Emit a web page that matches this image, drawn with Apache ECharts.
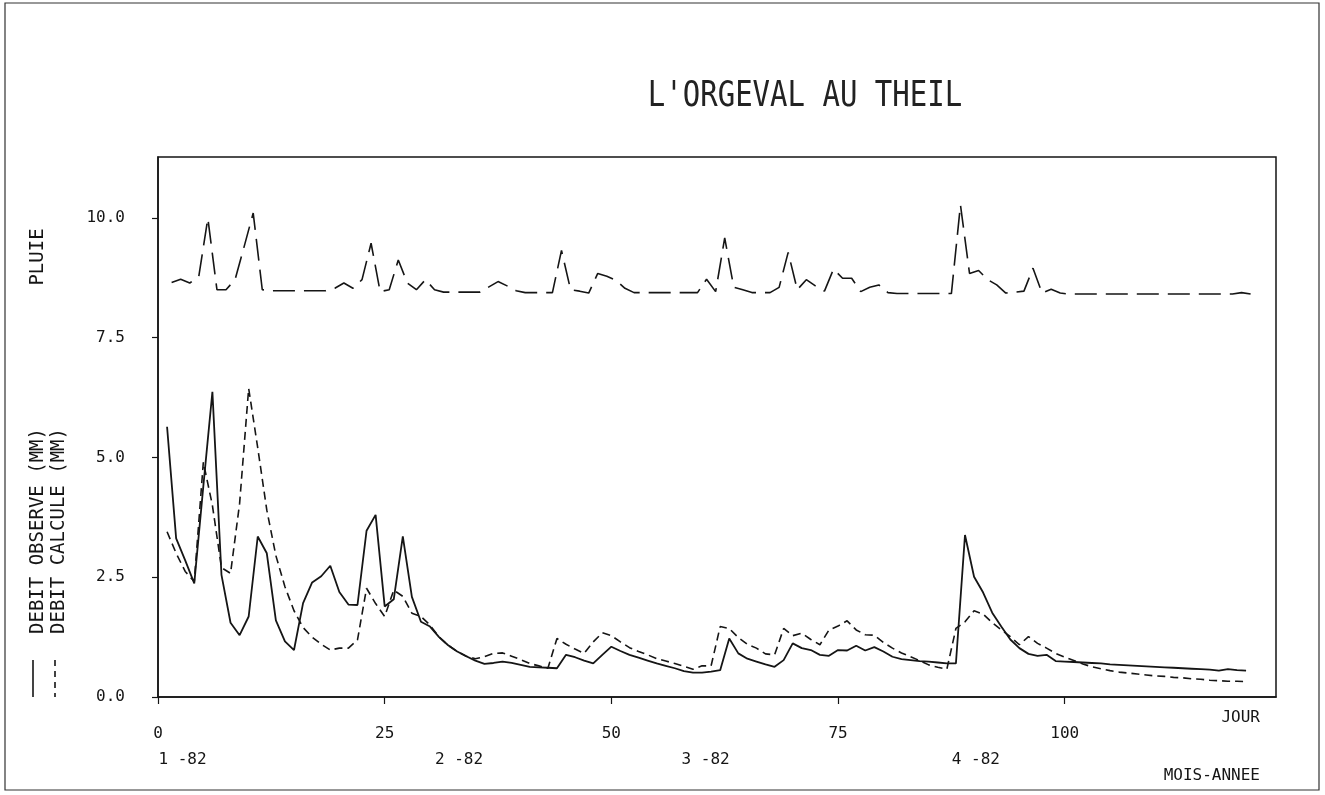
<!DOCTYPE html>
<html>
<head>
<meta charset="utf-8">
<script src="https://cdn.jsdelivr.net/npm/echarts@6/dist/echarts.min.js"></script>
<style>
html,body{margin:0;padding:0;background:#fff;}
#chart{width:1325px;height:795px;}
</style>
</head>
<body>
<div id="chart"></div>
<script>
// ---- data ----
const title = "L'ORGEVAL AU THEIL";
const xTicks = [0, 25, 50, 75, 100];
const monthLabels = ['1 -82', '2 -82', '3 -82', '4 -82'];
const monthLabelDays = [2.7, 33.2, 60.4, 90.2];
const yTicks = ['0.0', '2.5', '5.0', '7.5', '10.0'];

// daily observed discharge, days 1..120
const debitObserve = [
  5.64, 3.31, 2.85, 2.37, 4.40, 6.37, 2.55, 1.55, 1.29, 1.68,
  3.35, 3.00, 1.60, 1.16, 0.98, 1.96, 2.39, 2.52, 2.74, 2.19,
  1.93, 1.92, 3.47, 3.80, 1.89, 2.04, 3.35, 2.09, 1.57, 1.47,
  1.25, 1.08, 0.95, 0.85, 0.76, 0.69, 0.71, 0.74, 0.71, 0.67,
  0.63, 0.62, 0.61, 0.60, 0.88, 0.83, 0.76, 0.70, 0.88, 1.05,
  0.96, 0.88, 0.82, 0.76, 0.70, 0.65, 0.60, 0.54, 0.51, 0.51,
  0.53, 0.56, 1.22, 0.91, 0.80, 0.74, 0.68, 0.63, 0.77, 1.12,
  1.02, 0.98, 0.88, 0.86, 0.98, 0.97, 1.07, 0.97, 1.04, 0.95,
  0.84, 0.79, 0.77, 0.75, 0.74, 0.72, 0.70, 0.70, 3.38, 2.51,
  2.18, 1.76, 1.47, 1.20, 1.02, 0.90, 0.86, 0.88, 0.75, 0.74,
  0.73, 0.72, 0.71, 0.70, 0.68, 0.67, 0.66, 0.65, 0.64, 0.63,
  0.62, 0.61, 0.60, 0.59, 0.58, 0.57, 0.55, 0.58, 0.56, 0.55
];

// daily computed discharge, days 1..120
const debitCalcule = [
  3.45, 3.00, 2.62, 2.41, 4.90, 4.00, 2.70, 2.58, 4.04, 6.44,
  5.20, 3.90, 2.95, 2.30, 1.80, 1.45, 1.25, 1.10, 0.98, 1.02,
  1.02, 1.19, 2.27, 1.95, 1.68, 2.23, 2.10, 1.75, 1.68, 1.50,
  1.25, 1.08, 0.95, 0.85, 0.80, 0.84, 0.91, 0.92, 0.85, 0.78,
  0.70, 0.65, 0.60, 1.22, 1.10, 1.00, 0.91, 1.15, 1.34, 1.28,
  1.15, 1.03, 0.95, 0.88, 0.80, 0.75, 0.70, 0.64, 0.58, 0.65,
  0.65, 1.47, 1.43, 1.24, 1.10, 1.02, 0.90, 0.88, 1.43, 1.28,
  1.33, 1.20, 1.09, 1.40, 1.48, 1.59, 1.40, 1.30, 1.29, 1.14,
  1.02, 0.92, 0.84, 0.76, 0.67, 0.62, 0.58, 1.43, 1.57, 1.80,
  1.73, 1.55, 1.40, 1.26, 1.09, 1.26, 1.12, 1.02, 0.91, 0.83,
  0.76, 0.69, 0.63, 0.59, 0.55, 0.52, 0.50, 0.48, 0.46, 0.44,
  0.43, 0.41, 0.40, 0.38, 0.37, 0.35, 0.34, 0.33, 0.33, 0.32
];

// rain curve as plotted (offset scale), days 1..120, drawn at mid-day
const pluie = [
  8.65, 8.72, 8.64, 8.78, 9.99, 8.50, 8.50, 8.71, 9.40, 10.10,
  8.50, 8.48, 8.48, 8.48, 8.48, 8.48, 8.48, 8.48, 8.53, 8.64,
  8.53, 8.71, 9.47, 8.46, 8.50, 9.12, 8.64, 8.50, 8.71, 8.50,
  8.45, 8.45, 8.45, 8.45, 8.45, 8.56, 8.67, 8.58, 8.48, 8.44,
  8.44, 8.44, 8.44, 9.32, 8.50, 8.47, 8.43, 8.84, 8.78, 8.70,
  8.53, 8.44, 8.44, 8.44, 8.44, 8.44, 8.44, 8.44, 8.44, 8.72,
  8.46, 9.58, 8.55, 8.50, 8.44, 8.44, 8.44, 8.55, 9.28, 8.50,
  8.71, 8.58, 8.47, 8.93, 8.74, 8.74, 8.46, 8.55, 8.60, 8.44,
  8.42, 8.42, 8.42, 8.42, 8.42, 8.42, 8.42, 10.27, 8.84, 8.90,
  8.71, 8.60, 8.43, 8.45, 8.47, 8.95, 8.43, 8.51, 8.43, 8.41,
  8.41, 8.41, 8.41, 8.41, 8.41, 8.41, 8.41, 8.41, 8.41, 8.41,
  8.41, 8.41, 8.41, 8.41, 8.41, 8.41, 8.41, 8.41, 8.44, 8.41
];

// ---- chart ----
const FONT = '"DejaVu Sans Mono", monospace';
const INK = '#151515';
const pairs = (arr, shift) => arr.map((v, i) => [i + 1 + shift, v]);

const chart = echarts.init(document.getElementById('chart'), null, {renderer: 'canvas'});

const option = {
  backgroundColor: '#ffffff',
  animation: false,
  grid: {left: 158, right: 49, top: 157, bottom: 98, show: true, borderColor: INK, borderWidth: 1.5, backgroundColor: 'transparent'},
  xAxis: [
    {
      type: 'value', min: 0, max: 123.3, interval: 25,
      axisLine: {show: true, onZero: false, lineStyle: {color: INK, width: 1.5}},
      axisTick: {show: true, length: 7, lineStyle: {color: INK, width: 1.2}},
      axisLabel: {show: true, margin: 29, fontSize: 16, fontFamily: FONT, color: INK, showMaxLabel: false,
        formatter: v => xTicks.includes(v) ? String(v) : ''},
      splitLine: {show: false}
    },
    {
      type: 'value', min: 0, max: 123.3, position: 'bottom',
      axisLine: {show: false}, axisTick: {show: false}, splitLine: {show: false},
      axisLabel: {show: true, margin: 55, fontSize: 16, fontFamily: FONT, color: INK,
        customValues: monthLabelDays,
        formatter: v => { const k = monthLabelDays.indexOf(v); return k >= 0 ? monthLabels[k] : ''; }}
    }
  ],
  yAxis: {
    type: 'value', min: 0, max: 11.27, interval: 2.5,
    axisLine: {show: true, onZero: false, lineStyle: {color: INK, width: 1.5}},
    axisTick: {show: true, length: 6, lineStyle: {color: INK, width: 1.2}},
    axisLabel: {show: true, margin: 33, fontSize: 16, fontFamily: FONT, color: INK, showMaxLabel: false,
      formatter: v => { const s = v.toFixed(1); return yTicks.includes(s) ? s : ''; }},
    splitLine: {show: false}
  },
  series: [
    {name: 'PLUIE', type: 'line', xAxisIndex: 0, data: pairs(pluie, 0.5), symbol: 'none',
      lineStyle: {color: INK, width: 1.6, type: [22, 9]}},
    {name: 'DEBIT OBSERVE (MM)', type: 'line', xAxisIndex: 0, data: pairs(debitObserve, 0), symbol: 'none',
      lineStyle: {color: INK, width: 1.8, type: 'solid'}},
    {name: 'DEBIT CALCULE (MM)', type: 'line', xAxisIndex: 0, data: pairs(debitCalcule, 0), symbol: 'none',
      lineStyle: {color: INK, width: 1.6, type: [8, 5]}}
  ],
  graphic: [
    {type: 'rect', shape: {x: 5, y: 3, width: 1314, height: 787}, style: {fill: 'none', stroke: '#333', lineWidth: 1.2}, silent: true},
    {type: 'text', x: 805, y: 97, scaleY: 1.2, style: {text: title, font: '29px ' + FONT, fill: '#222', align: 'center', verticalAlign: 'middle'}},
    {type: 'text', x: 38, y: 257, rotation: Math.PI / 2, style: {text: 'PLUIE', font: '19px ' + FONT, fill: INK, align: 'center', verticalAlign: 'middle'}},
    {type: 'text', x: 38, y: 531, rotation: Math.PI / 2, style: {text: 'DEBIT OBSERVE (MM)', font: '19px ' + FONT, fill: INK, align: 'center', verticalAlign: 'middle'}},
    {type: 'text', x: 59, y: 531, rotation: Math.PI / 2, style: {text: 'DEBIT CALCULE (MM)', font: '19px ' + FONT, fill: INK, align: 'center', verticalAlign: 'middle'}},
    {type: 'line', shape: {x1: 33, y1: 660, x2: 33, y2: 697}, style: {stroke: INK, lineWidth: 1.6}},
    {type: 'line', shape: {x1: 55, y1: 660, x2: 55, y2: 697}, style: {stroke: INK, lineWidth: 1.6, lineDash: [6, 5]}},
    {type: 'text', x: 1260, y: 718, style: {text: 'JOUR', font: '16px ' + FONT, fill: INK, align: 'right', verticalAlign: 'middle'}},
    {type: 'text', x: 1260, y: 776, style: {text: 'MOIS-ANNEE', font: '16px ' + FONT, fill: INK, align: 'right', verticalAlign: 'middle'}}
  ]
};
chart.setOption(option);
</script>
</body>
</html>
